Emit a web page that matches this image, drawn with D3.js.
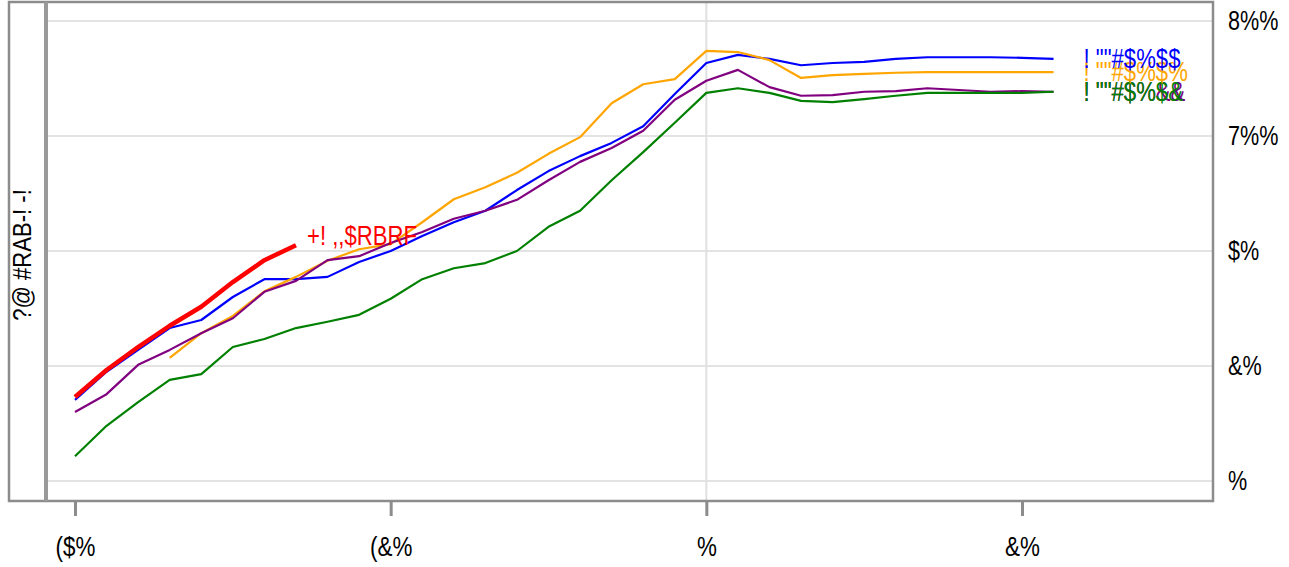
<!DOCTYPE html>
<html>
<head>
<meta charset="utf-8">
<script src="https://cdn.jsdelivr.net/npm/d3@7"></script>
<style>
  body { margin: 0; background: #fff; }
  text { font-family: "Liberation Sans", Arial, sans-serif; }
</style>
</head>
<body>
<div id="chart"></div>
<script>
const xValues = d3.range(-40, 24, 2);

const blue   = [141,190,228,266,280,320,351,351,355,381,400,426,450,470,506,539,565,588,617,673,727,741,734,723,727,729,734,737,737,737,736,734];
const orange = [null,null,null,214,257,287,330,355,383,403,412,450,490,511,536,569,598,657,690,699,748,746,732,701,706,708,710,711,711,711,711,711];
const purple = [120,151,202,228,257,283,329,348,384,391,414,433,456,470,489,523,555,579,609,663,696,715,685,670,671,677,678,683,680,677,678,677];
const green  = [43,96,137,176,186,233,247,266,277,289,317,351,370,379,400,442,470,523,572,623,675,683,675,661,659,664,670,675,675,675,675,677];
const red    = [146,193,233,270,303,346,384,410];

const seriesNames  = ["! \"\"#$%$$", "! \"\"#$%$%", "! \"\"#$%&&", "! \"\"#$%$&", "+! ,,$RBRF"];
const seriesColors = ["blue", "orange", "purple", "green", "red"];

const xTicks = [-40, -20, 0, 20];
const xTickLabels = ["($%", "(&%", "%", "&%"];
const yTicks = [0, 200, 400, 600, 800];
const yTickLabels = ["%", "&%", "$%", "7%%", "8%%"];
const yTitle = "?@ #RAB-! -!";

const W = 1289, H = 567;
const frame = { left: 9, top: 2, right: 1213, bottom: 501 };

const x = d3.scaleLinear().domain([-40, 20]).range([75, 1022]);
const y = d3.scaleLinear().domain([0, 800]).range([481, 21]);

const svg = d3.select("#chart").append("svg")
    .attr("width", W)
    .attr("height", H);

// grid

svg.append("g")
  .selectAll("line")
  .data(yTicks)
  .join("line")
    .attr("x1", 48)
    .attr("x2", frame.right)
    .attr("y1", d => y(d))
    .attr("y2", d => y(d))
    .attr("stroke", "#e3e3e3")
    .attr("stroke-width", 2);

svg.append("line")
    .attr("x1", x(0)).attr("x2", x(0))
    .attr("y1", frame.top).attr("y2", frame.bottom)
    .attr("stroke", "#e0e0e0")
    .attr("stroke-width", 2);

// lines

const series = [blue, orange, purple, green, red].map((vals, i) => ({
  name: seriesNames[i],
  color: seriesColors[i],
  points: vals.map((v, j) => ({ x: xValues[j], y: v })).filter(d => d.y != null)
}));

const line = d3.line().x(d => x(d.x)).y(d => y(d.y));

svg.append("g")
  .selectAll("path")
  .data(series)
  .join("path")
    .attr("d", d => line(d.points))
    .attr("fill", "none")
    .attr("stroke", d => d.color)
    .attr("stroke-width", d => d.color === "red" ? 4.5 : 2.2)
    .attr("stroke-linejoin", "round");

// end labels (purple first so green sits on top of it)

const labelOrder = [2, 3, 1, 0, 4];
const last = d => d.points[d.points.length - 1];

svg.append("g")
  .selectAll("g")
  .data(labelOrder.map(i => series[i]))
  .join("g")
    .attr("transform", d => d.color === "red"
        ? `translate(${x(last(d).x) + 11}, ${y(last(d).y) - 7})`
        : `translate(${x(last(d).x) + 30}, ${y(last(d).y) + 2})`)
  .append("text")
    .attr("transform", "scale(0.82, 1)")
    .attr("dominant-baseline", "middle")
    .attr("font-size", 27)
    .attr("fill", d => d.color)
    .text(d => d.name);

// frame

svg.append("rect")
    .attr("x", frame.left)
    .attr("y", frame.top)
    .attr("width", frame.right - frame.left)
    .attr("height", frame.bottom - frame.top)
    .attr("fill", "none")
    .attr("stroke", "#8c8c8c")
    .attr("stroke-width", 2.5);

svg.append("line")
    .attr("x1", 46).attr("x2", 46)
    .attr("y1", frame.top).attr("y2", frame.bottom)
    .attr("stroke", "#999")
    .attr("stroke-width", 4);

// x axis

const xAxis = d3.axisBottom(x)
    .tickValues(xTicks)
    .tickFormat((d, i) => xTickLabels[i])
    .tickSize(14)
    .tickPadding(20);

svg.append("g")
    .attr("transform", `translate(0, ${frame.bottom + 1})`)
    .call(xAxis)
    .call(g => g.select(".domain").remove())
    .call(g => g.selectAll(".tick line").attr("stroke", "#8c8c8c").attr("stroke-width", 3))
    .call(g => g.selectAll(".tick text")
        .attr("font-family", "Liberation Sans, Arial, sans-serif")
        .attr("font-size", 28)
        .attr("transform", "scale(0.8, 1)")
        .attr("fill", "#000"));

// y axis (right)

const yAxis = d3.axisRight(y)
    .tickValues(yTicks)
    .tickFormat((d, i) => yTickLabels[i])
    .tickSize(0)
    .tickPadding(0);

svg.append("g")
    .attr("transform", `translate(${frame.right + 15}, 0)`)
    .call(yAxis)
    .call(g => g.select(".domain").remove())
    .call(g => g.selectAll(".tick text")
        .attr("font-family", "Liberation Sans, Arial, sans-serif")
        .attr("font-size", 27)
        .attr("transform", "scale(0.8, 1)")
        .attr("fill", "#000"));

// y title

svg.append("text")
    .attr("transform", `translate(31, 255) rotate(-90) scale(0.85, 1)`)
    .attr("text-anchor", "middle")
    .attr("font-size", 26)
    .attr("fill", "#000")
    .text(yTitle);
</script>
</body>
</html>
